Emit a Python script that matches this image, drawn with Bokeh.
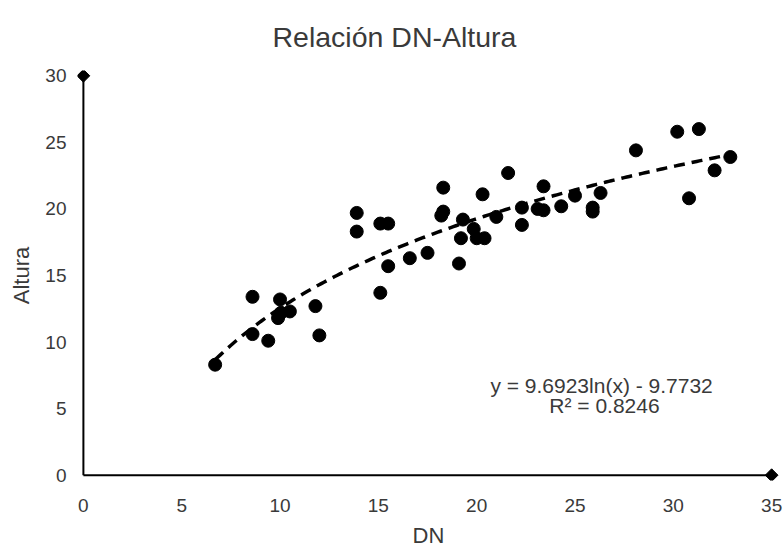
import numpy as np
from bokeh.plotting import figure
from bokeh.models import Range1d, FixedTicker, Label, ColumnDataSource
from bokeh.embed import file_html
from bokeh.resources import INLINE

# Data
dn = [6.7, 8.6, 8.6, 9.4, 9.9, 10.05, 10.0, 10.5, 11.8, 12.0, 13.9, 13.9, 15.1, 15.5,
      15.1, 15.5, 16.6, 17.5, 18.3, 18.3, 18.2, 19.1, 19.2, 19.3, 19.85, 20.0, 20.4,
      20.3, 21.0, 21.6, 22.3, 22.3, 23.1, 23.4, 23.4, 24.3, 25.0, 25.9, 25.9, 26.3,
      28.1, 30.2, 30.8, 31.3, 32.1, 32.9]
altura = [8.3, 13.4, 10.6, 10.1, 11.8, 12.2, 13.2, 12.3, 12.7, 10.5, 19.7, 18.3, 18.9,
          18.9, 13.7, 15.7, 16.3, 16.7, 21.6, 19.8, 19.5, 15.9, 17.8, 19.2, 18.5, 17.8,
          17.8, 21.1, 19.4, 22.7, 18.8, 20.1, 20.0, 19.9, 21.7, 20.2, 21.0, 20.1, 19.8,
          21.2, 24.4, 25.8, 20.8, 26.0, 22.9, 23.9]
trend_a = 9.6923
trend_b = -9.7732
r2 = 0.8246
x_ticks = [0, 5, 10, 15, 20, 25, 30, 35]
y_ticks = [0, 5, 10, 15, 20, 25, 30]
title_text = "Relación DN-Altura"
x_label = "DN"
y_label = "Altura"

FONT = "Liberation Sans"
TXT = "#3a3a3a"

p = figure(width=783, height=550, output_backend="svg", toolbar_location=None,
           x_range=Range1d(-0.3, 35.4), y_range=Range1d(-0.4, 30.4),
           min_border_left=77, min_border_right=4, min_border_top=70, min_border_bottom=70)
p.title.text = title_text
p.title.align = "left"
p.title.offset = 195
p.title.text_font = FONT
p.title.text_font_size = "28.5px"
p.title.text_font_style = "normal"
p.title.text_color = TXT
p.title.standoff = 35
p.outline_line_color = None
p.grid.visible = False

for ax, ticks in ((p.xaxis, x_ticks), (p.yaxis, y_ticks)):
    ax.ticker = FixedTicker(ticks=ticks)
    ax.axis_line_color = None
    ax.major_tick_line_color = None
    ax.minor_tick_line_color = None
    ax.major_label_text_font = FONT
    ax.major_label_text_font_size = "19px"
    ax.major_label_text_color = TXT
    ax.axis_label_text_font = FONT
    ax.axis_label_text_font_size = "22px"
    ax.axis_label_text_font_style = "normal"
    ax.axis_label_text_color = TXT

p.xaxis.axis_label = x_label
p.yaxis.axis_label = y_label
p.xaxis.major_label_standoff = 12
p.xaxis.axis_label_standoff = 8
p.yaxis.major_label_standoff = 5
p.yaxis.axis_label_standoff = 8

# axis lines with diamond ends
p.segment(x0=[0, 0], y0=[0, 0], x1=[35, 0], y1=[0, 30], line_color="black", line_width=2)
p.scatter(x=[35, 0], y=[0, 30], marker="square", angle=np.pi / 4, size=9, color="black")

# trend line
xt = np.linspace(min(dn), max(dn), 200)
yt = trend_a * np.log(xt) + trend_b
p.line(xt, yt, line_color="black", line_width=3.5, line_dash="11 7")

# points
src = ColumnDataSource(dict(x=dn, y=altura))
p.scatter("x", "y", source=src, size=13, color="black")

p.add_layout(Label(x=26.5, y=6.75, text=f"y = {trend_a}ln(x)  - {abs(trend_b)}",
                   text_align="center", text_baseline="middle", text_font=FONT,
                   text_font_size="21px", text_color=TXT))
p.add_layout(Label(x=26.5, y=5.25, text=f"R² = {r2}",
                   text_align="center", text_baseline="middle", text_font=FONT,
                   text_font_size="21px", text_color=TXT))

open("out.html", "w").write(file_html(p, INLINE))
